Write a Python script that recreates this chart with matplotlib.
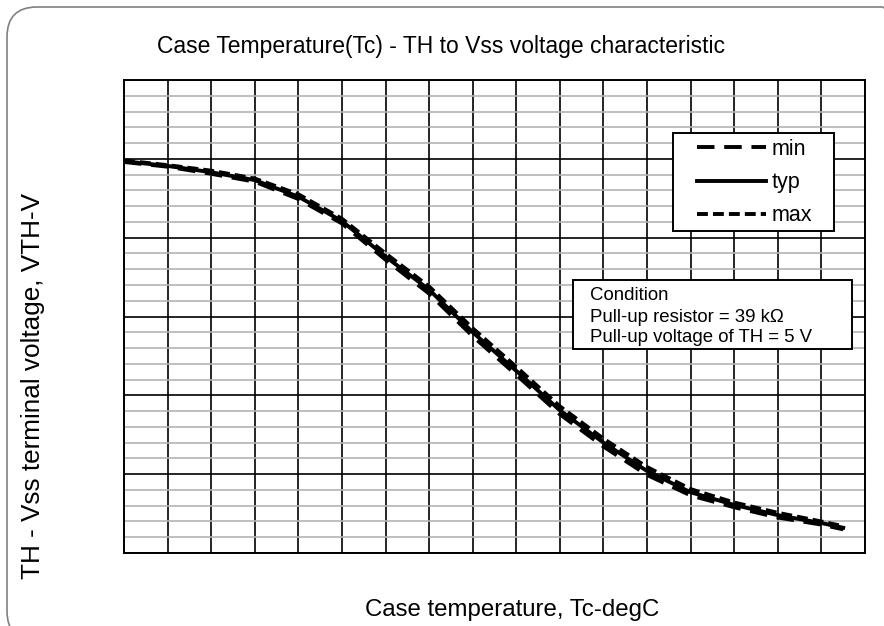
import matplotlib
matplotlib.use("Agg")
import matplotlib.pyplot as plt
from matplotlib.patches import FancyBboxPatch, Rectangle
from matplotlib.transforms import IdentityTransform

plt.rcParams['font.family'] = ['Liberation Sans', 'DejaVu Sans']

# datos (Tc en degC, VTH en V)
temp = [-40, -30, -20, -10, 0, 10, 20, 30, 40, 50, 60, 70, 80, 90, 100, 110, 120, 125]
vth_typ = [4.97, 4.91, 4.83, 4.73, 4.52, 4.21, 3.76, 3.34, 2.80, 2.31, 1.81, 1.40, 1.04, 0.77, 0.61, 0.48, 0.38, 0.32]
vth_max = [4.98, 4.92, 4.85, 4.75, 4.55, 4.24, 3.80, 3.38, 2.85, 2.36, 1.86, 1.45, 1.09, 0.81, 0.64, 0.51, 0.40, 0.34]
vth_min = [4.96, 4.90, 4.81, 4.71, 4.49, 4.18, 3.72, 3.29, 2.75, 2.26, 1.76, 1.35, 0.99, 0.73, 0.58, 0.45, 0.36, 0.30]

x_ticks = list(range(-40, 131, 10))
y_major = [0, 1, 2, 3, 4, 5, 6]
y_minor = [i * 0.2 for i in range(31)]

W, H = 884, 626
fig = plt.figure(figsize=(W / 100, H / 100), dpi=100)

# marco redondeado gris
marco = FancyBboxPatch((7, -15), 905, H - 7 + 15, boxstyle="round,pad=0,rounding_size=30",
                       transform=IdentityTransform(), facecolor="none", edgecolor="#808080",
                       linewidth=1.2)
fig.add_artist(marco)

ax = fig.add_axes([124 / W, (H - 553) / H, (865 - 124) / W, (553 - 80) / H])
ax.set_xlim(-40, 130)
ax.set_ylim(0, 6)
ax.set_xticks(x_ticks)
ax.set_yticks(y_major)
ax.set_yticks(y_minor, minor=True)
ax.tick_params(which="both", length=0, labelbottom=False, labelleft=False)
ax.grid(which="minor", axis="y", color="#b4b4b4", linewidth=1.2)
ax.grid(which="major", axis="both", color="black", linewidth=1.2)
ax.set_axisbelow(True)
for s in ax.spines.values():
    s.set_linewidth(1.4)

l_min, = ax.plot(temp, vth_min, color="black", linewidth=2.8, dashes=(4.5, 2.5), label="min")
l_typ, = ax.plot(temp, vth_typ, color="black", linewidth=2.8, label="typ")
l_max, = ax.plot(temp, vth_max, color="black", linewidth=2.8, dashes=(2.8, 1.3), label="max")

# leyenda: marco dibujado aparte
caja_ley = Rectangle((673 / W, 1 - 231 / H), (834 - 673) / W, (231 - 133) / H,
                     transform=fig.transFigure, facecolor="white", edgecolor="black",
                     linewidth=1.4, zorder=5)
fig.add_artist(caja_ley)
leg = fig.legend(handles=[l_min, l_typ, l_max], loc="upper left",
                 bbox_to_anchor=(697 / W, 1 - 139 / H), fontsize=15.5,
                 handlelength=3.2, handletextpad=0.25, labelspacing=0.56,
                 borderpad=0, borderaxespad=0, frameon=False)
leg.set_zorder(6)

# cuadro de condiciones
caja = Rectangle((573 / W, 1 - 349 / H), (852 - 573) / W, (349 - 280) / H,
                 transform=fig.transFigure, facecolor="white", edgecolor="black",
                 linewidth=1.4, zorder=5)
fig.add_artist(caja)
fig.text(590 / W, 1 - 296 / H, "Condition", fontsize=13.4, va="center", zorder=6)
fig.text(590 / W, 1 - 317 / H, "Pull-up resistor = 39 k\u03a9", fontsize=13.4, va="center", zorder=6)
fig.text(590 / W, 1 - 338 / H, "Pull-up voltage of TH = 5 V", fontsize=13.4, va="center", zorder=6)

fig.text(441 / W, 1 - 47 / H, "Case Temperature(Tc) - TH to Vss voltage characteristic",
         fontsize=16.5, ha="center", va="center")
fig.text(512 / W, 1 - 610 / H, "Case temperature, Tc-degC", fontsize=17.3, ha="center", va="center")
fig.text(33 / W, 1 - 386 / H, "TH - Vss terminal voltage, VTH-V", fontsize=18.8,
         ha="center", va="center", rotation=90)

fig.savefig("out.png", dpi=100)
